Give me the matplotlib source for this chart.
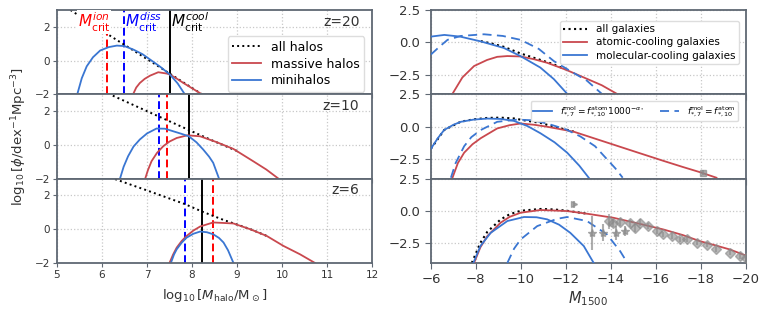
import numpy as np
import matplotlib.pyplot as plt

# ---- left column: halo mass functions (log10 M_halo, log10 phi) ----
redshifts = ['z=20', 'z=10', 'z=6']

all_x = [[5.3, 5.8, 6.3, 6.8, 7.3, 7.8, 8.22],
         [6.24, 7.0, 7.5, 8.0, 8.47, 9.0],
         [6.29, 7.0, 7.84, 8.22, 8.7, 9.3, 9.66]]
all_y = [[3.0, 2.12, 1.27, 0.43, -0.42, -1.28, -2.0],
         [2.92, 2.0, 1.4, 0.8, 0.24, -0.36],
         [2.97, 2.3, 1.49, 1.05, 0.55, 0.0, -0.4]]

mini_x = [[5.45, 5.55, 5.66, 5.8, 5.96, 6.15, 6.33, 6.5, 6.7, 6.9, 7.07, 7.3, 7.51, 7.68, 7.84],
          [6.4, 6.48, 6.58, 6.7, 6.84, 7.0, 7.21, 7.4, 7.58, 7.75, 7.93, 8.1, 8.25, 8.38, 8.47, 8.6],
          [7.53, 7.6, 7.66, 7.77, 7.88, 8.03, 8.18, 8.33, 8.47, 8.6, 8.7, 8.8, 8.92]]
mini_y = [[-2.0, -1.05, -0.34, 0.2, 0.6, 0.8, 0.89, 0.86, 0.65, 0.38, 0.06, -0.38, -0.83, -1.35, -2.0],
          [-2.0, -1.3, -0.67, -0.1, 0.32, 0.68, 0.97, 0.96, 0.81, 0.67, 0.51, 0.15, -0.28, -0.7, -1.06, -2.0],
          [-2.0, -1.5, -1.19, -0.8, -0.5, -0.27, -0.14, -0.18, -0.3, -0.52, -0.79, -1.25, -2.0]]

mass_x = [[6.69, 6.76, 6.84, 6.95, 7.07, 7.25, 7.44, 7.51, 7.65, 7.81, 8.0, 8.22],
          [6.96, 7.02, 7.1, 7.22, 7.36, 7.5, 7.66, 7.9, 8.18, 8.55, 8.92, 9.36, 9.65, 9.92],
          [7.5, 7.58, 7.66, 7.77, 7.88, 8.03, 8.18, 8.47, 8.92, 9.29, 9.66, 10.03, 10.4, 10.73]]
mass_y = [[-2.0, -1.6, -1.33, -1.08, -0.89, -0.69, -0.77, -0.83, -1.05, -1.33, -1.64, -2.0],
          [-2.0, -1.5, -0.97, -0.48, -0.08, 0.2, 0.41, 0.57, 0.51, 0.16, -0.24, -0.97, -1.46, -2.0],
          [-2.0, -1.5, -1.09, -0.7, -0.4, -0.08, 0.16, 0.4, 0.34, 0.0, -0.4, -0.99, -1.49, -2.0]]

# critical masses (ion, diss, cool)
m_ion = [6.11, 7.44, 8.47]
m_diss = [6.49, 7.27, 7.84]
m_cool = [7.51, 7.93, 8.22]

# ---- right column: UV luminosity functions (M1500, log10 phi) ----
allg_x = [[-8.22, -8.7, -9.25, -9.99, -10.7, -11.4, -12.0],
          [-6.0, -6.59, -7.33, -7.9, -8.51, -9.1, -9.69, -10.3, -10.87, -11.17, -11.5, -12.35],
          [-7.82, -8.2, -8.51, -9.1, -9.5, -9.99, -10.87, -11.5, -12.06, -13.0]]
allg_y = [[0.1, -0.08, -0.34, -0.85, -1.25, -1.65, -2.08],
          [-1.7, -0.25, 0.39, 0.57, 0.68, 0.7, 0.64, 0.45, 0.3, 0.15, 0.0, -0.37],
          [-4.0, -2.45, -1.6, -0.65, -0.25, 0.02, 0.16, 0.12, 0.02, -0.22]]

atom_x = [[-6.96, -7.4, -7.92, -8.5, -8.95, -9.4, -9.99, -10.6, -11.17, -12.0, -12.8, -13.6, -14.27],
          [-6.96, -7.2, -7.48, -7.85, -8.22, -8.95, -9.5, -9.99, -10.6, -11.17, -12.35, -13.2, -14.12,
           -15.2, -16.34, -17.2, -17.96, -18.7],
          [-7.92, -8.2, -8.51, -9.1, -9.5, -9.99, -10.87, -12.06, -13.0, -14.12, -15.2, -16.34, -17.2,
           -17.96, -18.6, -19.29, -19.96]]
atom_y = [[-3.96, -2.7, -1.82, -1.35, -1.11, -1.05, -1.08, -1.3, -1.57, -2.1, -2.7, -3.3, -3.96],
          [-3.93, -2.8, -2.0, -1.35, -0.88, -0.13, 0.12, 0.25, 0.15, 0.0, -0.38, -0.86, -1.38,
           -1.99, -2.63, -3.1, -3.5, -3.93],
          [-4.0, -2.8, -1.93, -0.9, -0.45, -0.13, 0.08, 0.0, -0.22, -0.52, -0.95, -1.42, -1.85,
           -2.32, -2.62, -2.96, -3.4]]

mol_x = [[-6.0, -6.6, -7.3, -8.22, -9.25, -9.99, -10.87, -11.47, -12.06],
         [-6.0, -6.3, -6.59, -7.0, -7.33, -7.9, -8.51, -9.1, -9.69, -10.3, -10.87, -11.5, -12.06, -12.6, -13.02],
         [-7.89, -8.2, -8.66, -9.4, -10.14, -10.7, -11.17, -11.7, -12.2, -12.8, -13.24]]
mol_y = [[0.45, 0.58, 0.45, 0.08, -0.43, -1.06, -1.94, -2.83, -3.96],
         [-1.7, -0.9, -0.25, 0.15, 0.38, 0.55, 0.63, 0.6, 0.45, 0.05, -0.5, -1.2, -2.0, -3.0, -3.93],
         [-4.0, -2.7, -1.68, -0.77, -0.46, -0.48, -0.64, -1.05, -1.68, -2.7, -4.0]]

moleq_x = [[-6.0, -6.4, -6.74, -7.33, -8.36, -9.2, -9.99, -10.8, -11.47, -12.2, -12.94, -13.6],
           [-6.89, -7.1, -7.48, -7.8, -8.22, -8.95, -9.84, -10.5, -11.17, -12.0, -12.65, -13.3, -13.83, -14.2, -14.53],
           [-9.4, -9.7, -9.99, -10.73, -11.61, -12.06, -12.94, -13.83, -14.42, -14.74]]
moleq_y = [[-0.93, -0.3, 0.2, 0.5, 0.63, 0.5, 0.2, -0.5, -1.44, -2.2, -2.95, -3.96],
           [-3.93, -2.8, -1.5, -0.8, -0.25, 0.38, 0.55, 0.5, 0.25, -0.2, -0.75, -1.5, -2.5, -3.2, -3.93],
           [-4.0, -2.9, -2.19, -1.16, -0.6, -0.46, -0.77, -1.8, -3.1, -4.0]]

# observations (z=6 panel, plus one point at z=10)
obs_tri_x, obs_tri_y, obs_tri_e = [-12.35], [0.52], [0.25]
obs_star_x = [-13.16, -13.65, -14.24, -14.64]
obs_star_y = [-1.67, -1.67, -1.67, -1.55]
obs_star_e = [1.3, 0.65, 0.55, 0.4]
obs_x = [-13.94, -14.12, -14.42, -14.86, -15.08, -15.3, -15.67, -16.04, -16.34, -16.71,
         -17.08, -17.37, -17.82, -18.26, -18.7, -19.29, -19.73, -20.0]
obs_y = [-0.77, -0.9, -0.82, -0.95, -1.29, -0.9, -1.16, -1.55, -1.8, -1.93,
         -2.19, -2.19, -2.45, -2.58, -2.96, -3.22, -3.48, -3.6]
obs_e = [0.58, 0.3, 0.3, 0.25, 0.3, 0.25, 0.25, 0.2, 0.2, 0.2,
         0.2, 0.2, 0.2, 0.2, 0.2, 0.2, 0.2, 0.2]
obs10_x, obs10_y = [-18.1], [-3.55]

RED = '#c9484e'
BLUE = '#3a76d2'
SPINE = '#5f6873'
GRID = '#c8c8c8'

fig = plt.figure(figsize=(7.64, 3.13), dpi=100)
gl = fig.add_gridspec(3, 1, left=0.0746, right=0.487, top=0.968, bottom=0.160, hspace=0)
gr = fig.add_gridspec(3, 1, left=0.564, right=0.976, top=0.968, bottom=0.160, hspace=0)


def style_ax(ax, fs, pad=2, length=3):
    for s in ax.spines.values():
        s.set_color(SPINE)
        s.set_linewidth(1.3)
    ax.grid(True, ls=':', color=GRID, lw=0.9)
    ax.set_axisbelow(True)
    ax.tick_params(direction='out', length=length, width=0.8, color=SPINE,
                   labelsize=fs, labelcolor='#333333', pad=pad)


# ---- left panels ----
left_axes = []
for i in range(3):
    ax = fig.add_subplot(gl[i])
    style_ax(ax, 7.5)
    ax.plot(all_x[i], all_y[i], ':', color='black', lw=1.4, label='all halos', zorder=1.5)
    ax.plot(mass_x[i], mass_y[i], '-', color=RED, lw=1.3, label='massive halos', zorder=2)
    ax.plot(mini_x[i], mini_y[i], '-', color=BLUE, lw=1.3, label='minihalos', zorder=2)
    ax.axvline(m_ion[i], color='red', ls='--', lw=1.4, dashes=(4, 2), zorder=1)
    ax.axvline(m_diss[i], color='blue', ls='--', lw=1.4, dashes=(4, 2), zorder=1)
    ax.axvline(m_cool[i], color='black', lw=1.4, zorder=1)
    ax.set_xlim(5, 12)
    ax.set_ylim(-2, 3)
    ax.set_yticks([-2, 0, 2])
    ax.text(0.96, 0.86, redshifts[i], transform=ax.transAxes, ha='right', va='center',
            fontsize=10, color='#333333')
    if i < 2:
        ax.tick_params(labelbottom=False)
    left_axes.append(ax)

ax0 = left_axes[0]
bb = dict(facecolor='white', edgecolor='none', pad=0.3)
ax0.text(6.18, 2.97, r'$M_\mathrm{crit}^{ion}$', color='red', ha='right', va='top', fontsize=11, bbox=bb, zorder=4)
ax0.text(6.5, 2.97, r'$M_\mathrm{crit}^{diss}$', color='blue', ha='left', va='top', fontsize=11, zorder=4)
ax0.text(7.53, 2.97, r'$M_\mathrm{crit}^{cool}$', color='black', ha='left', va='top', fontsize=11, zorder=4)
ax0.legend(loc='upper right', bbox_to_anchor=(0.995, 0.76), fontsize=9, frameon=True,
           handlelength=2.3, borderpad=0.35, labelspacing=0.3, edgecolor='#dddddd', framealpha=1)
left_axes[2].set_xlabel(r'$\log_{10}[M_\mathrm{halo}/\mathrm{M}_\odot]$', fontsize=9.5, labelpad=5, color='#333333')
left_axes[1].set_ylabel(r'$\log_{10}[\phi/\mathrm{dex}^{-1}\mathrm{Mpc}^{-3}]$', fontsize=9.5, labelpad=4, color='#333333')

# ---- right panels ----
right_axes = []
for i in range(3):
    ax = fig.add_subplot(gr[i])
    style_ax(ax, 9.5, pad=3.5, length=4)
    ax.plot(allg_x[i], allg_y[i], ':', color='black', lw=1.5, label='all galaxies', zorder=2)
    ax.plot(atom_x[i], atom_y[i], '-', color=RED, lw=1.3, label='atomic-cooling galaxies', zorder=3)
    l1, = ax.plot(mol_x[i], mol_y[i], '-', color=BLUE, lw=1.3, label='molecular-cooling galaxies', zorder=3)
    l2, = ax.plot(moleq_x[i], moleq_y[i], '--', color=BLUE, lw=1.3, dashes=(5, 3), zorder=3)
    ax.set_xlim(-6, -20)
    ax.set_ylim(-4, 2.5)
    ax.set_yticks([-2.5, 0.0, 2.5])
    ax.set_xticks(np.arange(-6, -21, -2))
    if i < 2:
        ax.tick_params(labelbottom=False)
    right_axes.append(ax)
    if i == 0:
        ax.legend(loc='upper right', bbox_to_anchor=(0.995, 0.935), fontsize=7.5, frameon=True,
                  handlelength=2.3, borderpad=0.35, labelspacing=0.3, edgecolor='#dddddd', framealpha=1)
    if i == 1:
        ax.legend([l1, l2], [r'$f_{*,7}^\mathrm{mol}=f_{*,10}^\mathrm{atom}1000^{-\alpha_*}$',
                             r'$f_{*,7}^\mathrm{mol}=f_{*,10}^\mathrm{atom}$'],
                  loc='upper right', bbox_to_anchor=(0.99, 0.97), ncol=2, fontsize=6.5,
                  frameon=True, handlelength=2.1, borderpad=0.3, columnspacing=1.8,
                  edgecolor='#dddddd', framealpha=1)
        ax.errorbar(obs10_x, obs10_y, yerr=[0.2], fmt='s', color='#8a8a8a', ms=5, alpha=0.7, zorder=4)

axr = right_axes[2]
axr.errorbar(obs_tri_x, obs_tri_y, yerr=obs_tri_e, fmt='>', color='#8a8a8a', ms=5, alpha=0.7, zorder=4)
axr.errorbar(obs_star_x, obs_star_y, yerr=obs_star_e, fmt='*', color='#8a8a8a', ms=6, alpha=0.7, zorder=4)
axr.errorbar(obs_x, obs_y, yerr=obs_e, fmt='D', color='#8a8a8a', ms=5, alpha=0.6, zorder=4)
axr.set_xlabel(r'$M_{1500}$', fontsize=10.5, labelpad=2, color='#333333')

fig.savefig('out.png', dpi=100)
